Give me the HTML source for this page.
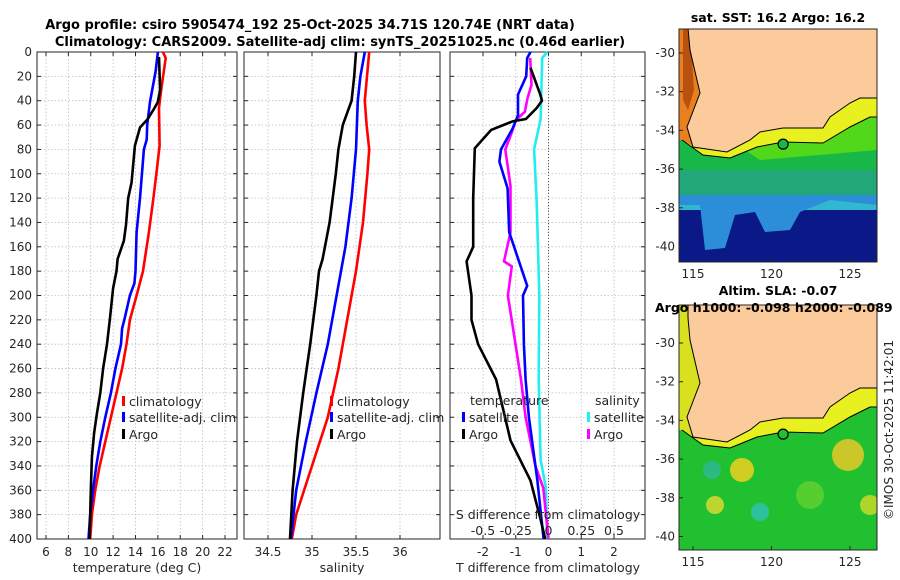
<!DOCTYPE html>
<html><head><meta charset="utf-8">
<style>
html,body{margin:0;padding:0;background:#fff;}
svg{display:block;font-family:"DejaVu Sans","Liberation Sans",sans-serif;}
</style></head>
<body>
<svg id="chart" width="900" height="580" viewBox="0 0 900 580" xmlns="http://www.w3.org/2000/svg">
<text x="310" y="29" text-anchor="middle" font-size="13" font-weight="bold" fill="#000">Argo profile: csiro 5905474_192 25-Oct-2025 34.71S 120.74E (NRT data)</text>
<text x="340" y="46" text-anchor="middle" font-size="13" font-weight="bold" fill="#000">Climatology: CARS2009. Satellite-adj clim: synTS_20251025.nc (0.46d earlier)</text>
<g id="panels"></g>
<text transform="translate(893,430) rotate(-90)" text-anchor="middle" font-size="12" fill="#262626">©IMOS 30-Oct-2025 11:42:01</text>
</svg>
<script>
// ---- data ----
const depthTicks=[0,20,40,60,80,100,120,140,160,180,200,220,240,260,280,300,320,340,360,380,400];
const tTicks=[6,8,10,12,14,16,18,20,22];
const sTicks=[34.5,35,35.5,36];
const dTTicks=[-2,-1,0,1,2];
const dSTicks=[-0.5,-0.25,0,0.25,0.5];
const latTicks=[-30,-32,-34,-36,-38,-40];
const lonTicks=[115,120,125];

const tClimDepth=[0,5,31,46,77,97,120,148,180,200,220,240,260,280,300,320,340,360,380,400];
const tClim=[16.45,16.7,16.3,16.1,16.15,15.9,15.6,15.2,14.67,14.1,13.5,13.2,12.8,12.3,11.8,11.3,10.8,10.4,10.1,9.95];
const tSatDepth=[0,16,41,60,72,80,120,148,180,190,200,220,227,240,260,280,300,320,340,360,380,400];
const tSat=[16.0,15.8,15.3,15.05,15.0,14.75,14.4,14.1,14.0,13.9,13.5,13.0,12.8,12.7,12.2,11.8,11.3,10.85,10.5,10.2,9.95,9.8];
const tArgoDepth=[4,31,41,46,55,62,77,107,120,142,155,170,180,194,220,240,260,280,297,313,333,360,400];
const tArgo=[16.1,16.2,16.0,15.7,15.1,14.4,13.95,13.65,13.35,13.15,12.96,12.4,12.3,12.0,11.7,11.45,11.1,10.85,10.55,10.3,10.1,10.0,9.9];

const sClimDepth=[0,40,60,80,100,140,180,220,260,300,340,380,400];
const sClim=[35.65,35.6,35.62,35.65,35.63,35.58,35.5,35.4,35.3,35.18,35.0,34.82,34.77];
const sSatDepth=[0,20,40,80,120,160,200,240,280,320,360,400];
const sSat=[35.6,35.55,35.52,35.5,35.45,35.38,35.28,35.18,35.05,34.93,34.82,34.76];
const sArgoDepth=[0,20,40,60,80,100,140,170,180,200,240,280,320,360,400];
const sArgo=[35.5,35.48,35.45,35.35,35.3,35.27,35.2,35.12,35.08,35.05,34.98,34.9,34.83,34.78,34.75];

const dTArgoDepth=[13,35,40,46,55,57,64,79,120,160,172,200,220,240,269,319,352,384,400];
const dTArgo=[-0.55,-0.25,-0.2,-0.36,-0.69,-1.1,-1.75,-2.25,-2.3,-2.3,-2.5,-2.35,-2.35,-2.15,-1.6,-1.16,-0.55,-0.24,-0.1];
const dTSatDepth=[0,5,20,35,52,63,80,90,112,148,172,192,200,240,269,300,352,400];
const dTSat=[-0.55,-0.65,-0.68,-0.93,-0.93,-1.1,-1.45,-1.5,-1.25,-1.2,-0.9,-0.65,-0.78,-0.75,-0.7,-0.6,-0.34,-0.15];
const dSArgoDepth=[5,27,38,49,56,66,80,110,148,172,176,200,269,300,340,358,400];
const dSArgo=[-0.14,-0.13,-0.16,-0.18,-0.25,-0.28,-0.33,-0.29,-0.29,-0.34,-0.28,-0.31,-0.21,-0.175,-0.1,-0.04,0];
const dSSatDepth=[0,5,55,80,123,200,269,335,358,400];
const dSSat=[-0.01,-0.048,-0.06,-0.11,-0.09,-0.07,-0.075,-0.06,-0.02,-0.01];

// ---- helpers ----
const NS="http://www.w3.org/2000/svg";
const root=document.getElementById('panels');
function mk(tag,attrs,parent){const e=document.createElementNS(NS,tag);for(const k in attrs)e.setAttribute(k,attrs[k]);(parent||root).appendChild(e);return e;}
const Y0=52,Y1=539;
const yD=d=>Y0+(d/400)*(Y1-Y0);
function lin(d0,d1,r0,r1){return v=>r0+(v-d0)/(d1-d0)*(r1-r0);}
const xT=lin(6,22,46,225);
const xS=lin(34.5,36,268,400);
const xDT=lin(-2,2,483,614);
const xDS=v=>xDT(v*4);

function panel(name,x0,x1,xs,ticks,fmt,showY){
  const g=mk('g',{});
  
  
  mk('rect',{x:x0,y:Y0,width:x1-x0,height:Y1-Y0,fill:'#fff'},g);
  depthTicks.forEach(d=>{
    const l=mk('line',{x1:x0,x2:x1,y1:yD(d),y2:yD(d),stroke:'#b8bcd8','stroke-width':0.8,'stroke-dasharray':'1.5,2'},g);
    
    
    mk('line',{x1:x0,x2:x0+4,y1:yD(d),y2:yD(d),stroke:'#262626'},g);
    mk('line',{x1:x1,x2:x1-4,y1:yD(d),y2:yD(d),stroke:'#262626'},g);
    if(showY){const t=mk('text',{x:x0-5,y:yD(d)+4,'text-anchor':'end','font-size':12,fill:'#262626'},g);t.textContent=d;
      }
  });
  ticks.forEach(v=>{
    const x=xs(v);
    const l=mk('line',{x1:x,x2:x,y1:Y0,y2:Y1,stroke:'#b8bcd8','stroke-width':0.8,'stroke-dasharray':'1.5,2'},g);
    
    
    mk('line',{x1:x,x2:x,y1:Y1,y2:Y1-4,stroke:'#262626'},g);
    mk('line',{x1:x,x2:x,y1:Y0,y2:Y0+4,stroke:'#262626'},g);
    const t=mk('text',{x:x,y:556,'text-anchor':'middle','font-size':12,fill:'#262626'},g);t.textContent=fmt(v);
    
  });
  mk('rect',{x:x0,y:Y0,width:x1-x0,height:Y1-Y0,fill:'none',stroke:'#262626','stroke-width':1},g);
  return g;
}
function series(name,g,xs,vals,depths,color,w){
  const p=mk('polyline',{points:vals.map((v,i)=>xs(v).toFixed(1)+','+yD(depths[i]).toFixed(1)).join(' '),fill:'none',stroke:color,'stroke-width':w||2.6,'stroke-linejoin':'round'},g);
  
  
}
function txt(g,x,y,s,size,anchor,name){const t=mk('text',{x:x,y:y,'font-size':size||12,fill:'#262626','text-anchor':anchor||'start'},g);t.textContent=s;
  return t;}
function legItem(g,x,y,color,label){
  const r=mk('rect',{x:x,y:y-10,width:3,height:10,fill:color},g);
  
  txt(g,x+7,y,label,12.5,'start','legend-entry');
}

// Panel 1: temperature
const g1=panel('temperature-panel',37,237,xT,tTicks,v=>v,true);
series('temperature-climatology-line',g1,xT,tClim,tClimDepth,'#ff0000');
series('temperature-satellite-line',g1,xT,tSat,tSatDepth,'#0000ff');
series('temperature-argo-line',g1,xT,tArgo,tArgoDepth,'#000000');
legItem(g1,122,406,'#ff0000','climatology');
legItem(g1,122,422,'#0000ff','satellite-adj. clim');
legItem(g1,122,439,'#000000','Argo');
txt(g1,137,572,'temperature (deg C)',12.5,'middle','x-axis-title');

// Panel 2: salinity
const g2=panel('salinity-panel',244,440,xS,sTicks,v=>v,false);
series('salinity-climatology-line',g2,xS,sClim,sClimDepth,'#ff0000');
series('salinity-satellite-line',g2,xS,sSat,sSatDepth,'#0000ff');
series('salinity-argo-line',g2,xS,sArgo,sArgoDepth,'#000000');
legItem(g2,330,406,'#ff0000','climatology');
legItem(g2,330,422,'#0000ff','satellite-adj. clim');
legItem(g2,330,439,'#000000','Argo');
txt(g2,342,572,'salinity',12.5,'middle','x-axis-title');

// Panel 3: differences
const g3=panel('difference-panel',450,645,xDT,dTTicks,v=>v,false);
const z=mk('line',{x1:xDT(0),x2:xDT(0),y1:Y0,y2:Y1,stroke:'#555','stroke-dasharray':'1,2'},g3);

series('salinity-diff-satellite-line',g3,xDS,dSSat,dSSatDepth,'#22eeee');
series('salinity-diff-argo-line',g3,xDS,dSArgo,dSArgoDepth,'#ff00ff');
series('temperature-diff-satellite-line',g3,xDT,dTSat,dTSatDepth,'#0000ff');
series('temperature-diff-argo-line',g3,xDT,dTArgo,dTArgoDepth,'#000000');
txt(g3,470,405,'temperature',12.5,'start','legend-title');
legItem(g3,462,422,'#0000ff','satellite');
legItem(g3,462,439,'#000000','Argo');
txt(g3,595,405,'salinity',12.5,'start','legend-title');
legItem(g3,587,422,'#22eeee','satellite');
legItem(g3,587,439,'#ff00ff','Argo');
txt(g3,548,519,'S difference from climatology',12.5,'middle','s-axis-title');
dSTicks.forEach(v=>txt(g3,xDS(v),535,String(v),12.5,'middle','s-tick-label'));
txt(g3,548,572,'T difference from climatology',12.5,'middle','x-axis-title');

// ---- Maps ----
function P(pts,off){return 'M'+pts.map(p=>p[0]+' '+(p[1]+off)).join(' L')+' Z';}
const coast=[[688,28],[690,50],[700,93],[687,127],[693,147],[727,152],[750,140],[760,132],[783,128],[823,128],[830,117],[850,103],[860,98],[877,98]];
const contour=[[682,140],[703,155],[730,158],[757,147],[783,142],[823,143],[850,127],[870,117],[877,117]];
function map(name,top,bottom,latTop,titleTxt,titleY,sla){
  const x0=679,x1=877;
  const off=latTop-53;
  const g=mk('g',{});
  
  
  const lonX=lin(115,125,693,850);
  const latY=lin(-30,-40,latTop,latTop+193.5);
  const cid='clip'+name;
  const cp=mk('clipPath',{id:cid},g);mk('rect',{x:x0,y:top,width:x1-x0,height:bottom-top},cp);
  const m=mk('g',{'clip-path':'url(#'+cid+')'},g);
  if(!sla){
    mk('rect',{x:x0,y:top,width:x1-x0,height:bottom-top,fill:'#18b848'},m);
    mk('rect',{x:x0,y:off+170,width:x1-x0,height:30,fill:'#22a878'},m);
    mk('path',{d:P([[679,195],[877,195],[877,212],[679,212]],off),fill:'#30b8d0'},m);
    mk('rect',{x:x0,y:off+210,width:x1-x0,height:60,fill:'#0a1888'},m);
    mk('path',{d:P([[679,205],[700,205],[705,250],[725,248],[735,215],[755,212],[765,232],[790,230],[800,212],[830,200],[877,205],[877,195],[679,195]],off),fill:'#2c8ed8'},m);
    mk('path',{d:P([[730,140],[877,110],[877,150],[760,160]],off),fill:'#60e010',opacity:0.8},m);
  } else {
    mk('rect',{x:x0,y:top,width:x1-x0,height:bottom-top,fill:'#20c030'},m);
    [[742,470,12,'#f0d020'],[715,505,9,'#d8d830'],[848,455,16,'#e8c828'],[760,512,9,'#30c0b0'],[712,470,9,'#30b890'],[810,495,14,'#60d030'],[870,505,10,'#c8d828']].forEach(c=>mk('circle',{cx:c[0],cy:c[1],r:c[2],fill:c[3],opacity:0.85},m));
  }
  // yellow coastal band
  mk('path',{d:P(coast.concat(contour.slice().reverse()),off),fill:'#e8f020',stroke:'none'},m);
  mk('path',{d:P([[679,-300],[688,-300],[688,28],[690,50],[700,93],[687,127],[693,147],[700,150],[682,140],[679,140]],off),fill:sla?'#d8e020':'#e88020'},m);
  if(!sla) mk('path',{d:P([[683,28],[690,28],[694,90],[688,110],[683,100]],off),fill:'#b85010'},m);
  // land
  const land=mk('path',{d:P(coast.concat([[877,-300],[688,-300]]),off),fill:'#fbcb9c',stroke:'#000','stroke-width':1},m);
  
  mk('path',{d:'M'+contour.map(p=>p[0]+' '+(p[1]+off)).join(' L'),fill:'none',stroke:'#000','stroke-width':1},m);
  const pt=mk('circle',{cx:lonX(120.74),cy:latY(-34.71),r:5,fill:sla?'#20c030':'#18b848',stroke:'#000','stroke-width':1.2},g);
  
  mk('rect',{x:x0,y:top,width:x1-x0,height:bottom-top,fill:'none',stroke:'#262626'},g);
  latTicks.forEach(v=>{const y=latY(v);if(y<top||y>bottom)return;
    mk('line',{x1:x0,x2:x0+4,y1:y,y2:y,stroke:'#262626'},g);
    txt(g,x0-4,y+4,v,12,'end','lat-tick-label');});
  lonTicks.forEach(v=>{const x=lonX(v);mk('line',{x1:x,x2:x,y1:bottom,y2:bottom-4,stroke:'#262626'},g);
    txt(g,x,bottom+16,v,12,'middle','lon-tick-label');});
  titleTxt.forEach((s,i)=>{const t=txt(g,i?655:778,titleY[i],s,12.5,i?'start':'middle','map-title');t.setAttribute('font-weight','bold');t.setAttribute('fill','#000');});
}
map('sst-map',29,262,53,['sat. SST: 16.2 Argo: 16.2'],[22],false);
map('sla-map',305,550,343,['Altim. SLA: -0.07','Argo h1000: -0.098 h2000: -0.089'],[295,312],true);
</script>
</body></html>
